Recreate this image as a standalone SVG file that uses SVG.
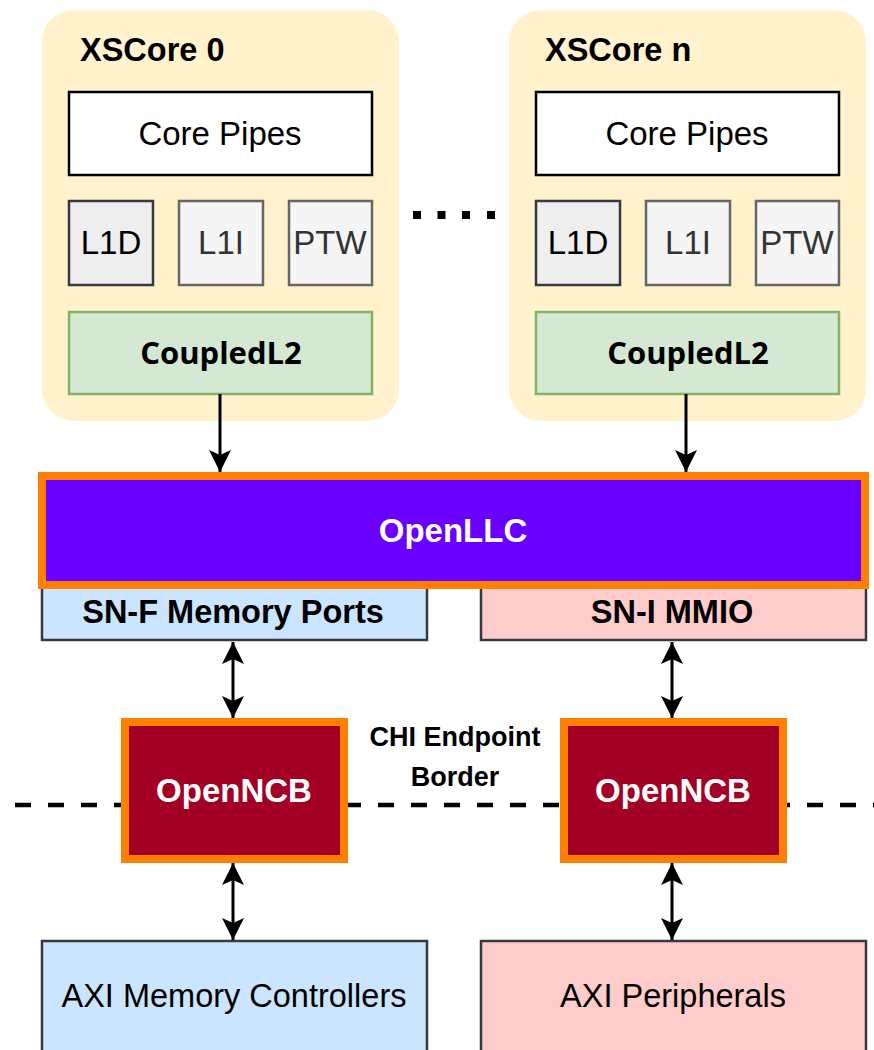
<svg xmlns="http://www.w3.org/2000/svg" width="874" height="1050" viewBox="0 0 874 1050">
<defs>
<marker id="ah" viewBox="0 0 22 22" refX="22" refY="11" markerWidth="22" markerHeight="22" markerUnits="userSpaceOnUse" orient="auto-start-reverse">
<path d="M0,0 L22,11 L0,22 L5,11 Z" fill="#000"/>
</marker>
<style>
.core{fill:#fff2cc;stroke:none}
.pipes{fill:#fff;stroke:#000;stroke-width:2.5}
.l1d{fill:#eeeeee;stroke:#36393d;stroke-width:2.5}
.l1x{fill:#f5f5f5;stroke:#666;stroke-width:2.5}
.l2{fill:#d5e8d4;stroke:#82b366;stroke-width:2.5}
.llc{fill:#6a00ff;stroke:#ff8000;stroke-width:8}
.ncb{fill:#a20025;stroke:#ff8000;stroke-width:8}
.snf{fill:#cce5ff;stroke:#36393d;stroke-width:2.5}
.sni{fill:#ffcccc;stroke:#36393d;stroke-width:2.5}
.t{font-family:"Liberation Sans",Arial,sans-serif;text-anchor:middle}
.b{font-weight:bold}
.ob{font-family:"Open Sans","Liberation Sans",sans-serif;font-weight:bold;text-anchor:middle}
.conn{stroke:#000;stroke-width:3;fill:none}
</style>
</defs>
<rect width="874" height="1050" fill="#fff"/>

<line x1="15" y1="805" x2="874" y2="805" stroke="#000" stroke-width="4.5" stroke-dasharray="16 17"/>

<g id="xscore0">
<rect class="core" x="42" y="10" width="357" height="411" rx="32"/>
<text class="t b" x="80" y="61" font-size="32.5" style="text-anchor:start">XSCore 0</text>
<g id="pipes0"><rect class="pipes" x="69" y="92" width="303" height="83"/><text class="t" x="220" y="145" font-size="33">Core Pipes</text></g>
<g id="l1d0"><rect class="l1d" x="69" y="201" width="84" height="84"/><text class="t" x="111" y="254" font-size="33">L1D</text></g>
<g id="l1i0"><rect class="l1x" x="179" y="201" width="84" height="84"/><text class="t" x="221" y="254" font-size="33" fill="#333">L1I</text></g>
<g id="ptw0"><rect class="l1x" x="289" y="201" width="83" height="84"/><text class="t" x="330" y="254" font-size="33" fill="#333">PTW</text></g>
<g id="l20"><rect class="l2" x="69" y="312" width="303" height="82"/><text class="ob" x="221" y="364" font-size="31">CoupledL2</text></g>
</g>

<g id="dots">
<rect x="413" y="211" width="8" height="8"/>
<rect x="437.5" y="211" width="8" height="8"/>
<rect x="462" y="211" width="8" height="8"/>
<rect x="487" y="211" width="8" height="8"/>
</g>

<g id="xscoren">
<rect class="core" x="509" y="10" width="357" height="411" rx="32"/>
<text class="t b" x="545" y="61" font-size="32.5" style="text-anchor:start">XSCore n</text>
<g id="pipesn"><rect class="pipes" x="536" y="92" width="303" height="83"/><text class="t" x="687" y="145" font-size="33">Core Pipes</text></g>
<g id="l1dn"><rect class="l1d" x="536" y="201" width="84" height="84"/><text class="t" x="578" y="254" font-size="33">L1D</text></g>
<g id="l1in"><rect class="l1x" x="646" y="201" width="84" height="84"/><text class="t" x="688" y="254" font-size="33" fill="#333">L1I</text></g>
<g id="ptwn"><rect class="l1x" x="756" y="201" width="83" height="84"/><text class="t" x="797" y="254" font-size="33" fill="#333">PTW</text></g>
<g id="l2n"><rect class="l2" x="536" y="312" width="303" height="82"/><text class="ob" x="688" y="364" font-size="31">CoupledL2</text></g>
</g>

<g id="snf"><rect class="snf" x="42" y="575" width="385" height="65"/><text class="t b" x="233" y="623" font-size="32.5">SN-F Memory Ports</text></g>
<g id="sni"><rect class="sni" x="481" y="575" width="385" height="65"/><text class="t b" x="672" y="623" font-size="32.5">SN-I MMIO</text></g>

<g id="openllc"><rect class="llc" x="42" y="476" width="823" height="109"/><text class="t b" x="453" y="542" font-size="33" fill="#fff">OpenLLC</text></g>

<g id="ncb0"><rect class="ncb" x="125" y="722" width="219" height="137"/><text class="t b" x="234" y="802" font-size="33" fill="#fff">OpenNCB</text></g>
<g id="ncbn"><rect class="ncb" x="564" y="722" width="219" height="137"/><text class="t b" x="673" y="802" font-size="33" fill="#fff">OpenNCB</text></g>

<g id="chi-label"><text class="t b" x="455" y="746" font-size="27">CHI Endpoint</text><text class="t b" x="455" y="786" font-size="27">Border</text></g>

<g id="axim"><rect class="snf" x="42" y="941" width="385" height="130"/><text class="t" x="234" y="1007" font-size="32.5">AXI Memory Controllers</text></g>
<g id="axip"><rect class="sni" x="481" y="941" width="385" height="130"/><text class="t" x="673" y="1007" font-size="32.5">AXI Peripherals</text></g>

<g id="connectors">
<line class="conn" x1="220" y1="394" x2="220" y2="472" marker-end="url(#ah)"/>
<line class="conn" x1="686" y1="394" x2="686" y2="472" marker-end="url(#ah)"/>
<line class="conn" x1="233" y1="642" x2="233" y2="718" marker-start="url(#ah)" marker-end="url(#ah)"/>
<line class="conn" x1="672" y1="642" x2="672" y2="718" marker-start="url(#ah)" marker-end="url(#ah)"/>
<line class="conn" x1="233" y1="863" x2="233" y2="940" marker-start="url(#ah)" marker-end="url(#ah)"/>
<line class="conn" x1="672" y1="863" x2="672" y2="940" marker-start="url(#ah)" marker-end="url(#ah)"/>
</g>
</svg>
